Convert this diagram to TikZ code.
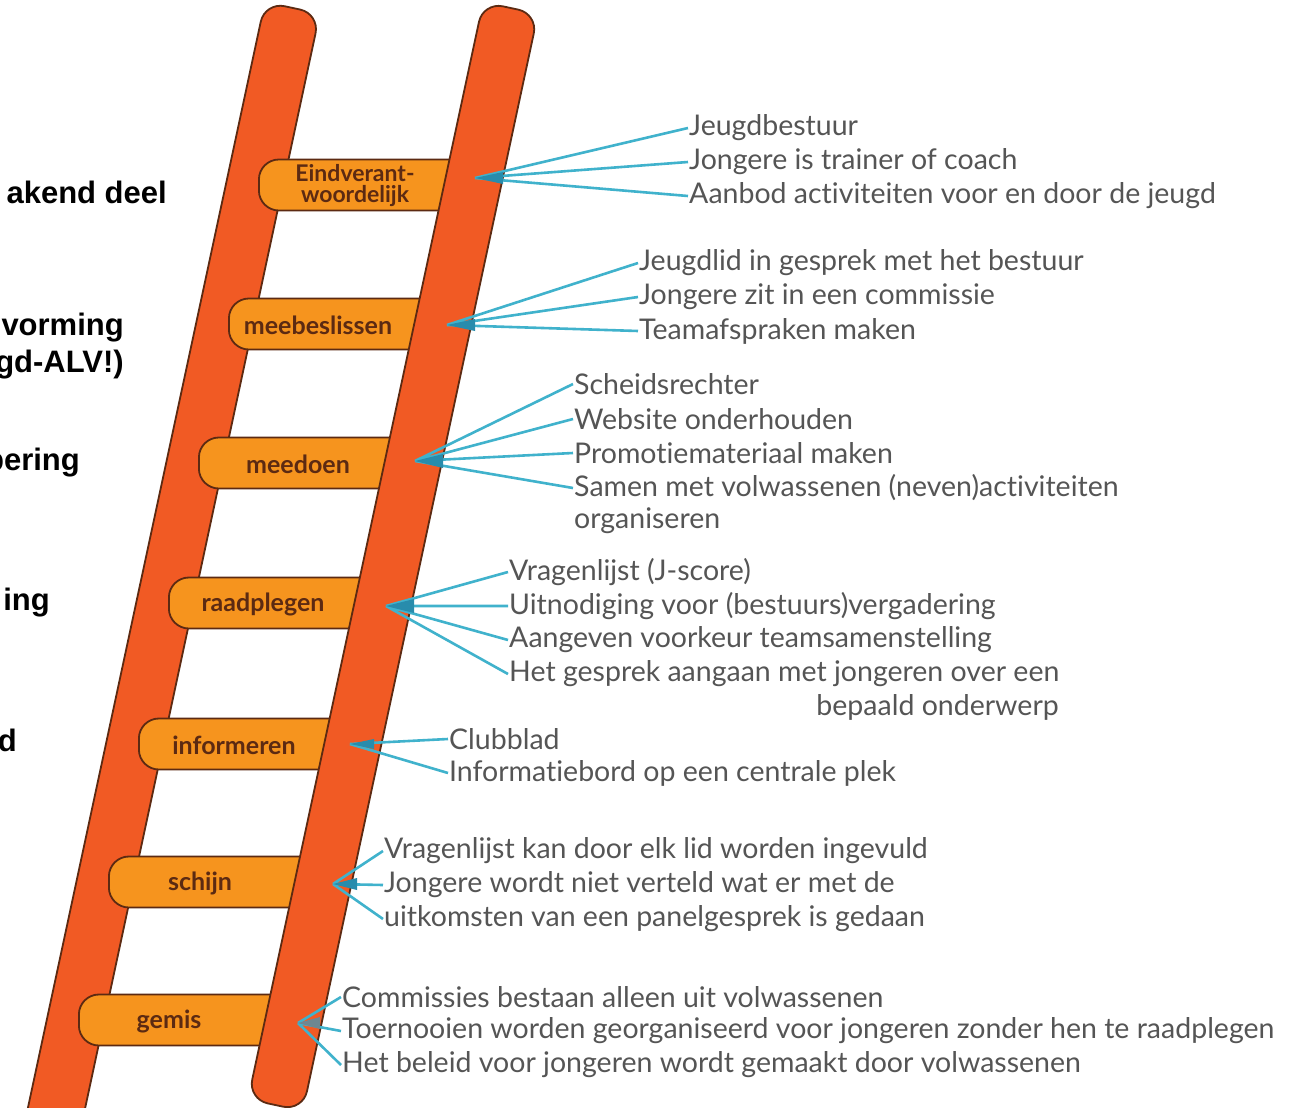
\documentclass[tikz,border=0pt]{standalone}
\usepackage{fontspec}
\setmainfont{Lato}[Ligatures=NoCommon]
\newfontfamily\arialfont{Liberation Sans}
\usetikzlibrary{positioning}
\definecolor{railred}{RGB}{241,90,36}
\definecolor{rungorange}{RGB}{246,148,30}
\definecolor{ladderbrown}{RGB}{92,42,18}
\definecolor{spokeblue}{RGB}{64,178,204}
\definecolor{hubblue}{RGB}{40,140,172}
\definecolor{hubgray}{RGB}{110,135,145}
\definecolor{textgray}{RGB}{85,85,85}
\tikzset{
  rail/.style={draw=ladderbrown, line width=1.8pt, fill=railred, rounded corners=20pt, minimum width=56pt, rotate=-12.1, inner sep=0pt},
  rung/.style={draw=ladderbrown, line width=1.8pt, fill=rungorange, rounded corners=20pt, minimum height=51pt, minimum width=214pt, inner sep=0pt, anchor=west},
  runglabel/.style={text=ladderbrown, font=\fontsize{25}{20}\selectfont\bfseries, align=center, inner sep=0pt},
  item/.style={text=textgray, font=\fontsize{28.5}{34}\selectfont, anchor=west, inner sep=1pt},
  spoke/.style={draw=spokeblue, line width=2.6pt},
  hub/.style={fill=hubblue},
  side/.style={font=\arialfont\bfseries\fontsize{31}{37}\selectfont, anchor=east, inner sep=0pt},
}

\begin{document}
\begin{tikzpicture}[x=1pt, y=-1pt]
  \useasboundingbox (0,0) rectangle (1304,1108);
  \fill[white] (0,0) rectangle (1304,1108);

  % cut-off text on the left
  \node[side] (s1) at (167,192) {akend deel};
  \node[side] (s2) at (124,328) {vorming};
  \node[side] (s3) at (124,365) {gd-ALV!)};
  \node[side] (s4) at (80,463) {pering};
  \node[side] (s5) at (50,603) {ing};
  \node[side] (s6) at (17,740) {d};

  % ladder
  \node[rail, minimum height=1158pt] (lrail) at (171,574) {};
  \node[rung] (eind) at (258,185) {};
  \node[rung] (mbs) at (228,324) {};
  \node[rung] (mdn) at (198,463) {};
  \node[rung] (rdp) at (168,603) {};
  \node[rung] (inf) at (138,744) {};
  \node[rung] (sch) at (108,882) {};
  \node[rung] (gms) at (78,1020) {};
  \node[rail, minimum height=1122pt] (rrail) at (393,556.5) {};

  \node[runglabel, font=\fontsize{23}{21}\selectfont\bfseries] at (355,186) {Eindverant-\\woordelijk};
  \node[runglabel] at (318,325) {meebeslissen};
  \node[runglabel] at (298,464) {meedoen};
  \node[runglabel] at (263,604) {raadplegen};
  \node[runglabel] at (234,745) {informeren};
  \node[runglabel] at (200,883) {schijn};
  \node[runglabel] at (169,1021) {gemis};

  % examples per step
  \node[item] (eind1) at (688,128) {Jeugdbestuur};
  \node[item] (eind2) at (688,162) {Jongere is trainer of coach};
  \node[item] (eind3) at (688,196) {Aanbod activiteiten voor en door de jeugd};

  \node[item] (mbs1) at (638,263) {Jeugdlid in gesprek met het bestuur};
  \node[item] (mbs2) at (638,297) {Jongere zit in een commissie};
  \node[item] (mbs3) at (638,331) {Teamafspraken maken};

  \node[item] (mdn1) at (573,384) {Scheidsrechter};
  \node[item] (mdn2) at (573,419) {Website onderhouden};
  \node[item] (mdn3) at (573,453) {Promotiemateriaal maken};
  \node[item] (mdn4) at (573,488) {Samen met volwassenen (neven)activiteiten};
  \node[item] (mdn5) at (573,521) {organiseren};

  \node[item] (rdp1) at (508,572) {Vragenlijst (J-score)};
  \node[item] (rdp2) at (508,606) {Uitnodiging voor (bestuurs)vergadering};
  \node[item] (rdp3) at (508,640) {Aangeven voorkeur teamsamenstelling};
  \node[item] (rdp4) at (508,674) {Het gesprek aangaan met jongeren over een};
  \node[item, anchor=east] (rdp5) at (1060,707) {bepaald onderwerp};

  \node[item] (inf1) at (448,739) {Clubblad};
  \node[item] (inf2) at (448,773) {Informatiebord op een centrale plek};

  \node[item] (sch1) at (383,851) {Vragenlijst kan door elk lid worden ingevuld};
  \node[item] (sch2) at (383,885) {Jongere wordt niet verteld wat er met de};
  \node[item] (sch3) at (383,919) {uitkomsten van een panelgesprek is gedaan};

  \node[item] (gms1) at (341,997) {Commissies bestaan alleen uit volwassenen};
  \node[item] (gms2) at (341,1031) {Toernooien worden georganiseerd voor jongeren zonder hen te raadplegen};
  \node[item] (gms3) at (341,1065) {Het beleid voor jongeren wordt gemaakt door volwassenen};

  % spokes
  \coordinate (feind) at (475,178);
  \coordinate (fmbs) at (447,325);
  \coordinate (fmdn) at (415,461);
  \coordinate (frdp) at (386,606);
  \coordinate (finf) at (350,744);
  \coordinate (fsch) at (333,884);
  \coordinate (fgms) at (298,1023);

  \draw[spoke] (feind) -- (eind1.west) (feind) -- (eind2.west) (feind) -- (eind3.west);
  \draw[spoke] (fmbs) -- (mbs1.west) (fmbs) -- (mbs2.west) (fmbs) -- (mbs3.west);
  \draw[spoke] (fmdn) -- (mdn1.west) (fmdn) -- (mdn2.west) (fmdn) -- (mdn3.west) (fmdn) -- (mdn4.west);
  \draw[spoke] (frdp) -- (rdp1.west) (frdp) -- (rdp2.west) (frdp) -- (rdp3.west) (frdp) -- (rdp4.west);
  \draw[spoke] (finf) -- (inf1.west) (finf) -- (inf2.west);
  \draw[spoke] (fsch) -- (sch1.west) (fsch) -- (sch2.west) (fsch) -- (sch3.west);
  \draw[spoke] (fgms) -- (gms1.west) (fgms) -- (gms2.west) (fgms) -- (gms3.west);

  \fill[hub] (feind) -- ++(28,-6) -- ++(0,12) -- cycle;
  \fill[hub] (fmbs) -- ++(28,-6) -- ++(0,12) -- cycle;
  \fill[hub] (fmdn) -- ++(28,-7) -- ++(0,14) -- cycle;
  \fill[hub] (frdp) -- ++(28,-7) -- ++(0,14) -- cycle;
  \fill[hub] (finf) -- ++(24,-5) -- ++(0,10) -- cycle;
  \fill[hub] (fsch) -- ++(24,-6) -- ++(0,12) -- cycle;
  \fill[hub, hubgray] (fgms) -- ++(22,-6) -- ++(0,12) -- cycle;
\end{tikzpicture}
\end{document}
